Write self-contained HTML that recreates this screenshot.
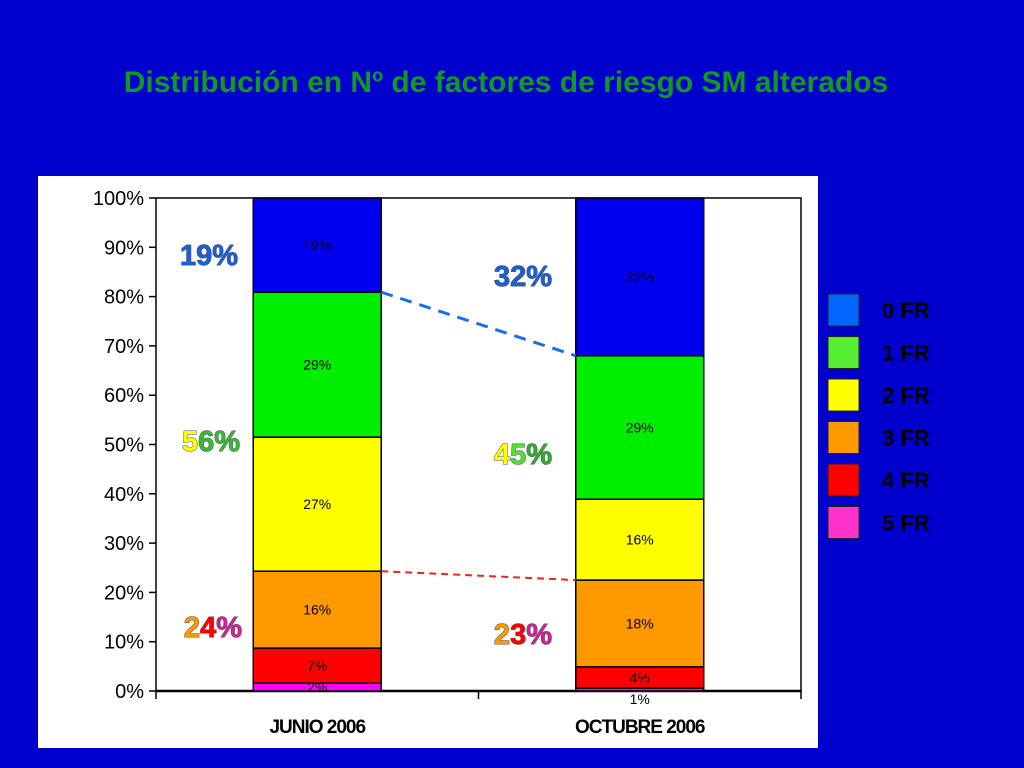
<!DOCTYPE html>
<html><head><meta charset="utf-8"><style>
html,body{margin:0;padding:0;width:1024px;height:768px;overflow:hidden;background:#0000cc;font-family:"Liberation Sans",sans-serif}
</style></head><body>
<svg width="1024" height="768" xmlns="http://www.w3.org/2000/svg">
<text x="506" y="92" text-anchor="middle" font-size="30" font-weight="bold" fill="#119922">Distribución en Nº de factores de riesgo SM alterados</text>
<rect x="38" y="176" width="780" height="572" fill="#ffffff"/>
<g id="plot"></g>
<g id="legend"></g>
</svg>
<script>
const categories = ["JUNIO 2006", "OCTUBRE 2006"];
const seriesNames = ["5 FR", "4 FR", "3 FR", "2 FR", "1 FR", "0 FR"];
const valuesJunio = [1.6, 7.1, 15.6, 27.2, 29.4, 19.1];
const valuesOctubre = [0.6, 4.3, 17.6, 16.4, 29.1, 32.0];
const labelsJunio = ["2%", "7%", "16%", "27%", "29%", "19%"];
const labelsOctubre = ["1%", "4%", "18%", "16%", "29%", "32%"];
const yTicks = [0, 10, 20, 30, 40, 50, 60, 70, 80, 90, 100];
const barColors = ["#ff00ff", "#ff0000", "#ff9900", "#ffff00", "#00ee00", "#0000ee"];
const legendColors = ["#ff33cc", "#ff0000", "#ff9900", "#ffff00", "#55ee33", "#0066ff"];

const NS = "http://www.w3.org/2000/svg";
const plot = document.getElementById("plot");
const X0 = 156, X1 = 801, Y0 = 691, Y1 = 198;
const y = v => Y0 - (v / 100) * (Y0 - Y1);
const bandW = (X1 - X0) / categories.length;
const xc = i => X0 + bandW * (i + 0.5);
const BW = 128;
function mk(tag, attrs, parent) {
  const e = document.createElementNS(NS, tag);
  for (const k in attrs) e.setAttribute(k, attrs[k]);
  (parent || plot).appendChild(e);
  return e;
}
// frame
const fr = mk("rect", {x: X0, y: Y1, width: X1 - X0, height: Y0 - Y1, fill: "none", stroke: "#000", "stroke-width": 1.5});


// y ticks
yTicks.forEach(t => {
  const l = mk("line", {x1: X0 - 7, x2: X0, y1: y(t), y2: y(t), stroke: "#000", "stroke-width": 1.5});
  
  
  const tx = mk("text", {x: X0 - 12, y: y(t) + 7, "text-anchor": "end", "font-size": 20, fill: "#000"});
  tx.textContent = t + "%";
  
  
});
// x axis
const xa = mk("line", {x1: X0, x2: X1, y1: Y0, y2: Y0, stroke: "#000", "stroke-width": 2.5});


[0, 1, 2].forEach(i => {
  const l = mk("line", {x1: X0 + bandW * i, x2: X0 + bandW * i, y1: Y0, y2: Y0 + 8, stroke: "#000", "stroke-width": 1.5});
  
  
});
const allVals = [valuesJunio, valuesOctubre];
const allLabels = [labelsJunio, labelsOctubre];
const tops = [];
allVals.forEach((vals, ci) => {
  let cum = 0;
  const t = [];
  vals.forEach((v, si) => {
    const yb = y(cum), yt = y(cum + v);
    const r = mk("rect", {x: xc(ci) - BW / 2, y: yt, width: BW, height: yb - yt, fill: barColors[si], stroke: "#000", "stroke-width": 1.5});
    
    
    const h = yb - yt;
    const ly = h < 6 ? yb + 13 : (yt + yb) / 2 + 5;
    const tx = mk("text", {x: xc(ci), y: ly, "text-anchor": "middle", "font-size": 14, fill: "#000"});
    tx.textContent = allLabels[ci][si];
    
    
    cum += v;
    t.push(cum);
  });
  tops.push(t);
  const cl = mk("text", {x: xc(ci), y: 733, "text-anchor": "middle", "font-size": 19, "font-weight": "bold", "letter-spacing": "-1", fill: "#000"});
  cl.textContent = categories[ci];
  
  
});
// dashed connectors
const d1 = mk("line", {x1: xc(0) + BW / 2, y1: y(tops[0][4]), x2: xc(1) - BW / 2, y2: y(tops[1][4]), stroke: "#1a6fe8", "stroke-width": 3, "stroke-dasharray": "12 8"});


const d2 = mk("line", {x1: xc(0) + BW / 2, y1: y(tops[0][2]), x2: xc(1) - BW / 2, y2: y(tops[1][2]), stroke: "#ee2222", "stroke-width": 2, "stroke-dasharray": "7 5"});


// big group labels
function big(x, yy, parts, name) {
  const t = mk("text", {x: x, y: yy, "text-anchor": "end", "font-size": 29, "font-weight": "bold", style: "paint-order:stroke", stroke: "#555", "stroke-width": 1});
  parts.forEach(p => { const s = mk("tspan", {fill: p[1]}, t); s.textContent = p[0]; });
  
  
}
big(238, 265, [["19%", "#1a5fd8"]], 'group-0fr-junio');
big(240, 451, [["5", "#ffff00"], ["6%", "#33bb33"]], 'group-12fr-junio');
big(242, 637, [["2", "#ff9900"], ["4", "#ff0000"], ["%", "#cc2299"]], 'group-345fr-junio');
big(552, 286, [["32%", "#1a5fd8"]], 'group-0fr-octubre');
big(552, 464, [["4", "#ffff00"], ["5", "#55dd33"], ["%", "#33aa33"]], 'group-12fr-octubre');
big(552, 644, [["2", "#ff9900"], ["3", "#ff0000"], ["%", "#cc2299"]], 'group-345fr-octubre');
// legend
const lg = document.getElementById("legend");
for (let k = 0; k < 6; k++) {
  const si = 5 - k;
  const yy = 294 + k * 42.5;
  const r = mk("rect", {x: 828, y: yy, width: 31, height: 32, fill: legendColors[si], stroke: "#222", "stroke-width": 1}, lg);
  
  
  const t = mk("text", {x: 882, y: yy + 24, "font-size": 22, "font-weight": "bold", fill: "#000"}, lg);
  t.textContent = seriesNames[si];
  
  
}
</script>
</body></html>
